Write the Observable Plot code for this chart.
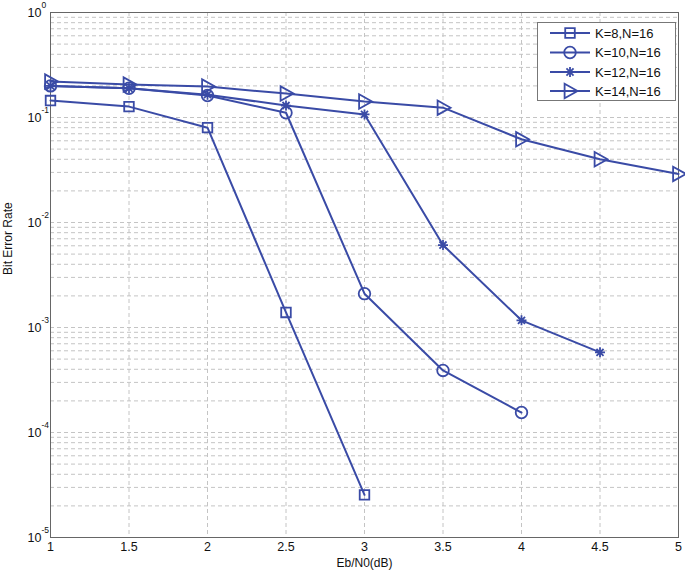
<!DOCTYPE html>
<html>
<head>
<meta charset="utf-8">
<script src="https://cdn.jsdelivr.net/npm/d3@7"></script>
<script src="https://cdn.jsdelivr.net/npm/@observablehq/plot@0.6"></script>
<style>
  html, body { margin: 0; padding: 0; background: #fff; }
  #wrap { position: relative; width: 685px; height: 573px; font-family: "Liberation Sans", Arial, Helvetica, sans-serif; }
  #legend { position: absolute; left: 537px; top: 22px; }
</style>
</head>
<body>
<div id="wrap"><div id="chart"></div><svg id="legend" width="139" height="79"></svg></div>
<script>
const ebn0 = [1, 1.5, 2, 2.5, 3, 3.5, 4, 4.5, 5];
const seriesNames = ["K=8,N=16", "K=10,N=16", "K=12,N=16", "K=14,N=16"];
const berK8  = [0.145, 0.127, 0.080, 1.39e-3, 2.55e-5];
const berK10 = [0.200, 0.190, 0.162, 0.111, 2.1e-3, 3.9e-4, 1.55e-4];
const berK12 = [0.200, 0.190, 0.165, 0.130, 0.107, 6.1e-3, 1.17e-3, 5.8e-4];
const berK14 = [0.220, 0.206, 0.197, 0.169, 0.142, 0.124, 0.062, 0.040, 0.029];
const xTicks = [1, 1.5, 2, 2.5, 3, 3.5, 4, 4.5, 5];
const yExponents = [0, -1, -2, -3, -4, -5];

const color = "#3a4ba6";
const allSeries = [berK8, berK10, berK12, berK14];
const data = allSeries.flatMap((vals, i) => vals.map((v, j) => ({series: seriesNames[i], x: ebn0[j], y: v})));

const triangleRight = {
  draw(ctx, size) {
    const r = Math.sqrt(size / Math.PI);
    ctx.moveTo(r * 1.05, 0);
    ctx.lineTo(-r * 0.75, -r);
    ctx.lineTo(-r * 0.75, r);
    ctx.closePath();
  }
};
const star8 = {
  draw(ctx, size) {
    const r = Math.sqrt(size / Math.PI);
    const d = r * Math.SQRT1_2;
    ctx.moveTo(-r, 0); ctx.lineTo(r, 0);
    ctx.moveTo(0, -r); ctx.lineTo(0, r);
    ctx.moveTo(-d, -d); ctx.lineTo(d, d);
    ctx.moveTo(-d, d); ctx.lineTo(d, -d);
  }
};
const symbols = [d3.symbolSquare, d3.symbolCircle, star8, triangleRight];
const radii = [5.4, 5.8, 5.0, 7.2];

const yTickVals = yExponents.map(e => Math.pow(10, e));
const yGrid = [];
for (let e = -5; e < 0; e++) for (let m = 1; m <= 9; m++) yGrid.push(m * Math.pow(10, e));
yGrid.push(1);

const font = "Liberation Sans, Arial, Helvetica, sans-serif";

const chart = Plot.plot({
  width: 685,
  height: 573,
  marginLeft: 50,
  marginRight: 7,
  marginTop: 12,
  marginBottom: 36,
  style: {fontFamily: font, background: "white"},
  x: {domain: [1, 5], axis: null},
  y: {type: "log", domain: [1e-5, 1], axis: null},
  marks: [
    Plot.gridY(yGrid, {stroke: "#c4c4c4", strokeOpacity: 1, strokeDasharray: "4,3"}),
    Plot.gridX(xTicks, {stroke: "#c4c4c4", strokeOpacity: 1, strokeDasharray: "4,3"}),
    Plot.frame({stroke: "#666", strokeWidth: 1}),
    ...allSeries.map((vals, i) =>
      Plot.line(data.filter(d => d.series === seriesNames[i]), {x: "x", y: "y", stroke: color, strokeWidth: 2})
    ),
    ...allSeries.map((vals, i) =>
      Plot.dot(data.filter(d => d.series === seriesNames[i]), {x: "x", y: "y", symbol: symbols[i], r: radii[i], stroke: color, strokeWidth: 1.8, fill: "none"})
    ),
    Plot.text(xTicks, {x: d => d, frameAnchor: "bottom", dy: 13, text: d => String(d), fontSize: 12.5, fill: "#111"}),
    Plot.text(yTickVals, {y: d => d, frameAnchor: "left", dx: -9, textAnchor: "end", text: () => "10", fontSize: 12.5, fill: "#111"}),
    Plot.text(yExponents, {y: e => Math.pow(10, e), frameAnchor: "left", dx: -9, dy: -7, textAnchor: "start", text: e => String(e), fontSize: 8.5, fill: "#111"}),
    Plot.text(["Eb/N0(dB)"], {frameAnchor: "bottom", dy: 29, text: d => d, fontSize: 12, fill: "#111"}),
    Plot.text(["Bit Error Rate"], {frameAnchor: "left", dx: -42, rotate: -90, text: d => d, fontSize: 12, fill: "#111"})
  ]
});
document.getElementById("chart").appendChild(chart);

// Legend
const lg = d3.select("#legend");
lg.append("rect").attr("x", 0.5).attr("y", 0.5).attr("width", 138).attr("height", 78)
  .attr("fill", "white").attr("stroke", "#777").attr("stroke-width", 1);
const rowY = [11, 30.5, 50, 69];
seriesNames.forEach((name, i) => {
  const g = lg.append("g").attr("transform", `translate(0,${rowY[i]})`);
  g.append("line").attr("x1", 13).attr("x2", 53).attr("y1", 0).attr("y2", 0)
    .attr("stroke", color).attr("stroke-width", 2);
  g.append("path").attr("transform", "translate(33,0)")
    .attr("d", d3.symbol(symbols[i], Math.PI * radii[i] * radii[i])())
    .attr("fill", "none").attr("stroke", color).attr("stroke-width", 1.8);
  g.append("text").attr("x", 58).attr("y", 0).attr("dy", "0.36em")
    .attr("font-size", 13).attr("font-family", font).attr("fill", "#111").text(name);
});
</script>
</body>
</html>
